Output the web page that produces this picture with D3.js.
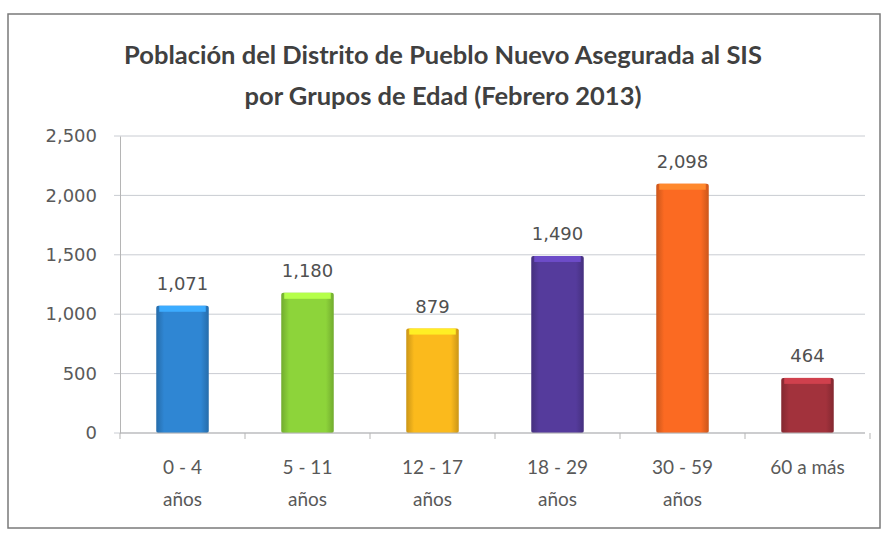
<!DOCTYPE html>
<html>
<head>
<meta charset="utf-8">
<script src="https://cdn.jsdelivr.net/npm/d3@7"></script>
<style>
body{margin:0;background:#fff;}
text{font-family:"Open Sans","Liberation Sans",sans-serif;}
</style>
</head>
<body>
<svg id="chart"></svg>
<script>
var categories=["0 - 4|años","5 - 11|años","12 - 17|años","18 - 29|años","30 - 59|años","60 a más"];
var values=[1071,1180,879,1490,2098,464];
var colors=["#2f86d3","#8dd43a","#fbba1c","#553b9c","#fb6a22","#a2323c"];
var yTicks=[0,500,1000,1500,2000,2500];

var width=887,height=540;
var margin={left:120,right:17,top:136,bottom:107};

var svg=d3.select("#chart")
  .attr("width",width)
  .attr("height",height);

// frame
svg.append("rect")
  .attr("x",8).attr("y",14)
  .attr("width",872).attr("height",514)
  .attr("fill","#fff")
  .attr("stroke","#7a7a7a")
  .attr("stroke-width",1.5);

var title=svg.append("text")
  .attr("text-anchor","middle")
  .attr("fill","#404040")
  .style("font-family","Lato,'Open Sans',sans-serif")
  .style("font-weight","bold")
  .style("font-size","25.5px");
title.append("tspan").attr("x",443).attr("y",64).text("Población del Distrito de Pueblo Nuevo Asegurada al SIS");
title.append("tspan").attr("x",443).attr("y",105).text("por Grupos de Edad (Febrero 2013)");

var xScale=d3.scaleBand()
  .domain(categories)
  .range([margin.left,width-margin.right])
  .paddingInner(0.58)
  .paddingOuter(0.29);

var yScale=d3.scaleLinear()
  .domain([0,2500])
  .range([height-margin.bottom,margin.top]);

// gridlines
svg.append("g")
  .selectAll("line")
  .data(yTicks)
  .enter()
  .append("line")
  .attr("x1",margin.left-6)
  .attr("x2",width-margin.right-5)
  .attr("y1",function(d){return yScale(d);})
  .attr("y2",function(d){return yScale(d);})
  .attr("stroke","#c9ccd2")
  .attr("stroke-width",1);

var yAxis=d3.axisLeft(yScale)
  .tickValues(yTicks)
  .tickSize(0)
  .tickPadding(23)
  .tickFormat(d3.format(","));
svg.append("g")
  .classed("yAxis",true)
  .attr("transform","translate("+margin.left+",0)")
  .call(yAxis)
  .call(function(g){g.select(".domain").attr("stroke","#b5b5b5");})
  .selectAll("text")
  .attr("fill","#5a5a5a")
  .style("font-family","'DejaVu Sans',sans-serif")
  .style("font-size","18px");

// gradients for the bars
var defs=svg.append("defs");
colors.forEach(function(c,i){
  var g=defs.append("linearGradient").attr("id","g"+i)
    .attr("x1","0").attr("x2","1").attr("y1","0").attr("y2","0");
  g.append("stop").attr("offset","0").attr("stop-color",d3.color(c).darker(0.6));
  g.append("stop").attr("offset","0.15").attr("stop-color",c);
  g.append("stop").attr("offset","0.85").attr("stop-color",c);
  g.append("stop").attr("offset","1").attr("stop-color",d3.color(c).darker(0.6));
});

var bars=svg.append("g")
  .selectAll("g")
  .data(values)
  .enter()
  .append("g");

bars.append("rect")
  .attr("x",function(d,i){return xScale(categories[i]);})
  .attr("y",function(d){return yScale(d);})
  .attr("width",xScale.bandwidth())
  .attr("height",function(d){return yScale(0)-yScale(d);})
  .attr("rx",2)
  .attr("fill",function(d,i){return "url(#g"+i+")";});

bars.append("rect")
  .attr("x",function(d,i){return xScale(categories[i])+3;})
  .attr("y",function(d){return yScale(d);})
  .attr("width",xScale.bandwidth()-6)
  .attr("height",6)
  .attr("fill",function(d,i){return d3.color(colors[i]).brighter(0.7);});

bars.append("text")
  .attr("x",function(d,i){return xScale(categories[i])+xScale.bandwidth()/2;})
  .attr("y",function(d){return yScale(d)-16;})
  .attr("text-anchor","middle")
  .attr("fill","#505050")
  .style("font-family","'DejaVu Sans',sans-serif")
  .style("font-size","18px")
  .text(function(d){return d3.format(",")(d);});

// x axis
svg.append("line")
  .attr("x1",margin.left).attr("x2",width-margin.right-5)
  .attr("y1",yScale(0)).attr("y2",yScale(0))
  .attr("stroke","#b5b5b5");
svg.append("g")
  .selectAll("line")
  .data(d3.range(categories.length+1))
  .enter()
  .append("line")
  .attr("x1",function(d){return margin.left+d*xScale.step();})
  .attr("x2",function(d){return margin.left+d*xScale.step();})
  .attr("y1",yScale(0))
  .attr("y2",yScale(0)+6)
  .attr("stroke","#b5b5b5");

var labels=svg.append("g")
  .selectAll("text")
  .data(categories)
  .enter()
  .append("text")
  .attr("text-anchor","middle")
  .attr("fill","#595959")
  .style("font-family","Lato,'Open Sans',sans-serif")
  .style("font-size","19px");
labels.each(function(d){
  var t=d3.select(this);
  var cx=xScale(d)+xScale.bandwidth()/2;
  d.split("|").forEach(function(p,j){
    t.append("tspan").attr("x",cx).attr("y",yScale(0)+41+j*32).text(p);
  });
});
</script>
</body>
</html>
